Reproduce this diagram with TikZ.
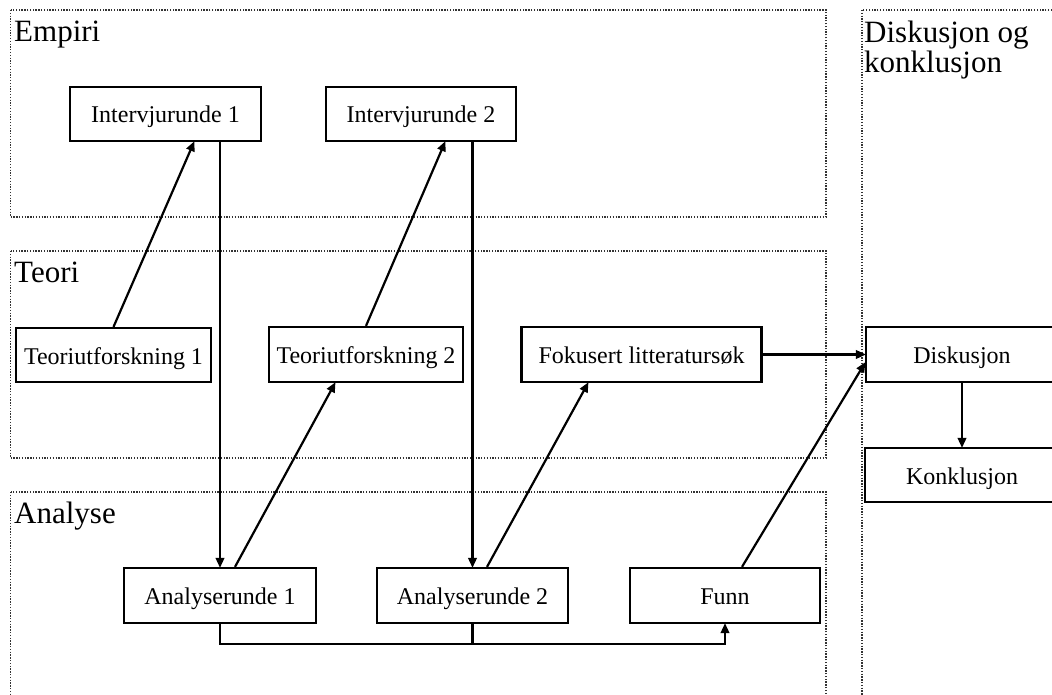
\documentclass[tikz,border=0pt]{standalone}
\usepackage{fontspec}
\setmainfont{Liberation Serif}
\usetikzlibrary{arrows.meta}

\tikzset{
  region/.style={draw=black!80, line width=1.1pt, dash pattern=on 1.3pt off 1.5pt},
  regiontitle/.style={inner sep=0pt, anchor=base west, align=left,
    font=\fontsize{31}{30}\selectfont},
  stepbox/.style={draw, line width=2.2pt, inner sep=0pt,
    text height=19pt, text depth=1pt,
    font=\fontsize{24}{28}\selectfont},
  link/.style={line width=2.2pt},
  flow/.style={link, -{Triangle[length=10pt,width=8.5pt]}, shorten >=-1pt},
}

\begin{document}
\begin{tikzpicture}[x=1pt, y=-1pt]
  \useasboundingbox (0,0) rectangle (1052,695);
  \clip (0,0) rectangle (1052,695);

  % phase regions
  \draw[region] (10.5,10) rectangle (826,217);
  \draw[region] (10.5,251) rectangle (826,458);
  \draw[region] (10.5,492) rectangle (826,720);
  \draw[region] (862,10) rectangle (1080,720);

  \node[regiontitle] (tEmp) at (14,42) {Empiri};
  \node[regiontitle] (tTeo) at (14,282) {Teori};
  \node[regiontitle] (tAna) at (14,523) {Analyse};
  \node[regiontitle] (tDis) at (864,73) {Diskusjon og\\konklusjon};

  % steps
  \node[stepbox, minimum width=191pt, minimum height=54pt] (IR1) at (165.5,114) {Intervjurunde 1};
  \node[stepbox, minimum width=190pt, minimum height=54pt] (IR2) at (421,114) {Intervjurunde 2};
  \node[stepbox, minimum width=195pt, minimum height=54pt] (TU1) at (113.5,355) {Teoriutforskning 1};
  \node[stepbox, minimum width=194pt, minimum height=55pt] (TU2) at (366,354.5) {Teoriutforskning 2};
  \node[stepbox, minimum width=240pt, minimum height=55pt] (FL) at (641.5,354.5) {Fokusert litteratursøk};
  \node[stepbox, minimum width=192pt, minimum height=55pt] (DK) at (962,354.5) {Diskusjon};
  \node[stepbox, minimum width=194pt, minimum height=54pt] (KO) at (962,475) {Konklusjon};
  \node[stepbox, minimum width=192pt, minimum height=55pt] (AR1) at (220,595.5) {Analyserunde 1};
  \node[stepbox, minimum width=191pt, minimum height=55pt] (AR2) at (472.5,595.5) {Analyserunde 2};
  \node[stepbox, minimum width=190pt, minimum height=55pt] (FU) at (725,595.5) {Funn};

  \coordinate (bus) at (220,644);

  % connectors
  \draw[flow] (TU1.north) -- ([xshift=28.5pt]IR1.south);
  \draw[flow] (IR1.south -| AR1.north) -- (AR1.north);
  \draw[flow] ([xshift=15pt]AR1.north) -- ([xshift=-31pt]TU2.south);
  \draw[flow] (TU2.north) -- ([xshift=24pt]IR2.south);
  \draw[flow] (IR2.south -| AR2.north) -- (AR2.north);
  \draw[flow] ([xshift=14.5pt]AR2.north) -- ([xshift=-53.5pt]FL.south);
  \draw[flow] (FL.east) -- (DK.west);
  \draw[flow] ([xshift=17pt]FU.north) -- ([yshift=-8.5pt]DK.west);
  \draw[flow] (DK.south) -- (KO.north);
  \draw[flow] (AR1.south) -- (AR1.south |- bus) -| (FU.south);
  \draw[link] (AR2.south) -- (AR2.south |- bus);
\end{tikzpicture}
\end{document}
